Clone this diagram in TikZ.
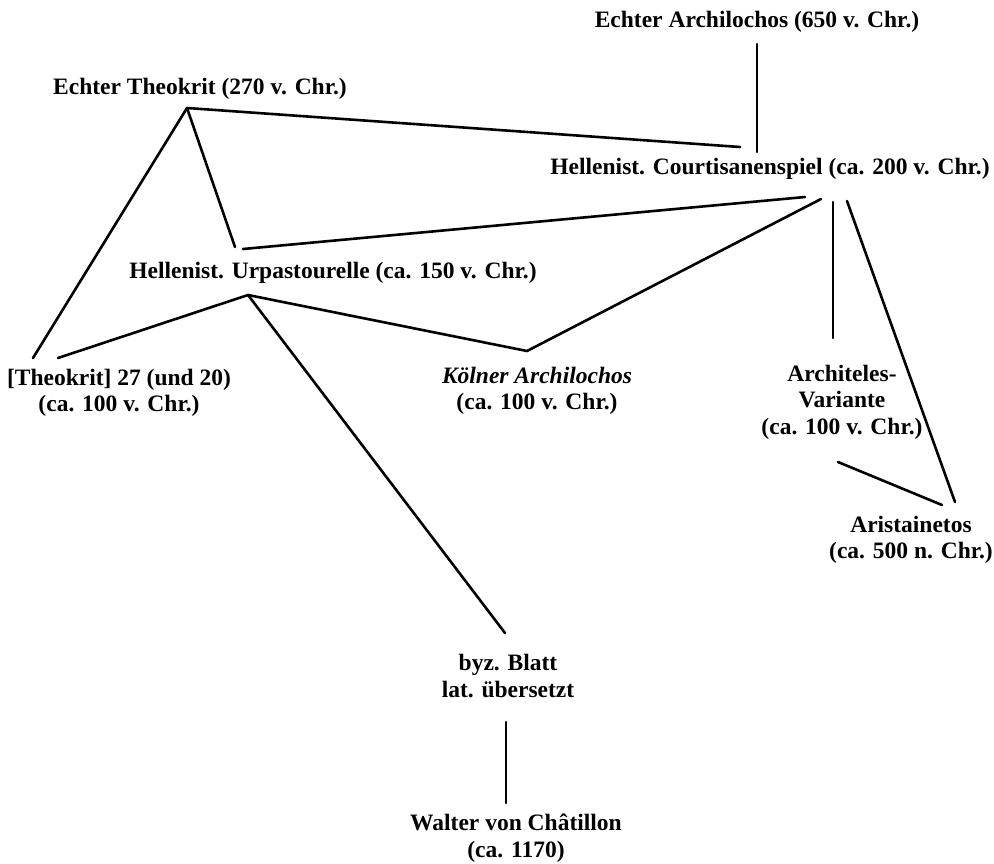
\documentclass[tikz,border=0pt]{standalone}
\usepackage{fontspec}
\setmainfont{Liberation Serif}
\begin{document}
\begin{tikzpicture}[x=1pt,y=-1pt,
  lbl/.style={font=\bfseries\fontsize{23.5}{26.5}\selectfont, align=center, inner sep=0pt},
  conn/.style={line width=2.6pt, line cap=round}]
\useasboundingbox[fill=white] (0,0) rectangle (994,863);
% text nodes
\node[lbl] (arch)  at (757,22)  {Echter Archilochos (650 v. Chr.)};
\node[lbl] (theo)  at (200,89)  {Echter Theokrit (270 v. Chr.)};
\node[lbl] (court) at (770,169) {Hellenist. Courtisanenspiel (ca. 200 v. Chr.)};
\node[lbl] (urp)   at (333,273) {Hellenist. Urpastourelle (ca. 150 v. Chr.)};
\node[lbl] (th27)  at (119,393) {[Theokrit] 27 (und 20)\\(ca. 100 v. Chr.)};
\node[lbl] (koel)  at (537,391) {\textit{Kölner Archilochos}\\(ca. 100 v. Chr.)};
\node[lbl] (archi) at (842,402) {Architeles-\\Variante\\(ca. 100 v. Chr.)};
\node[lbl] (arist) at (911,540) {Aristainetos\\(ca. 500 n. Chr.)};
\node[lbl] (byz)   at (508,676) {byz. Blatt\\lat. übersetzt};
\node[lbl] (walt)  at (516,838) {Walter von Châtillon\\(ca. 1170)};
% connector end points
\coordinate (archB)   at (757,44);
\coordinate (courtA)  at (757,152);
\coordinate (theoX)   at (187,108);
\coordinate (courtT)  at (740,147);
\coordinate (urpT)    at (235,247);
\coordinate (urpT2)   at (243,249);
\coordinate (courtU)  at (805,197);
\coordinate (courtK)  at (821,199);
\coordinate (courtV)  at (833,202);
\coordinate (courtR)  at (847,201);
\coordinate (th27T)   at (33,358);
\coordinate (th27U)   at (58,358);
\coordinate (urpB)    at (248,295);
\coordinate (koelT)   at (527,351);
\coordinate (byzT)    at (505,633);
\coordinate (archiT)  at (833,338);
\coordinate (archiB)  at (838,462);
\coordinate (aristL)  at (942,505);
\coordinate (aristR)  at (955,502);
\coordinate (byzB)    at (506,722);
\coordinate (waltT)   at (506,803);
% connectors
\draw[conn] (archB) -- (courtA);
\draw[conn] (theoX) -- (courtT);
\draw[conn] (theoX) -- (urpT);
\draw[conn] (theoX) -- (th27T);
\draw[conn] (urpT2) -- (courtU);
\draw[conn] (urpB) -- (th27U);
\draw[conn] (urpB) -- (koelT) -- (courtK);
\draw[conn] (urpB) -- (byzT);
\draw[conn] (courtV) -- (archiT);
\draw[conn] (courtR) -- (aristR);
\draw[conn] (archiB) -- (aristL);
\draw[conn] (byzB) -- (waltT);
\end{tikzpicture}
\end{document}
